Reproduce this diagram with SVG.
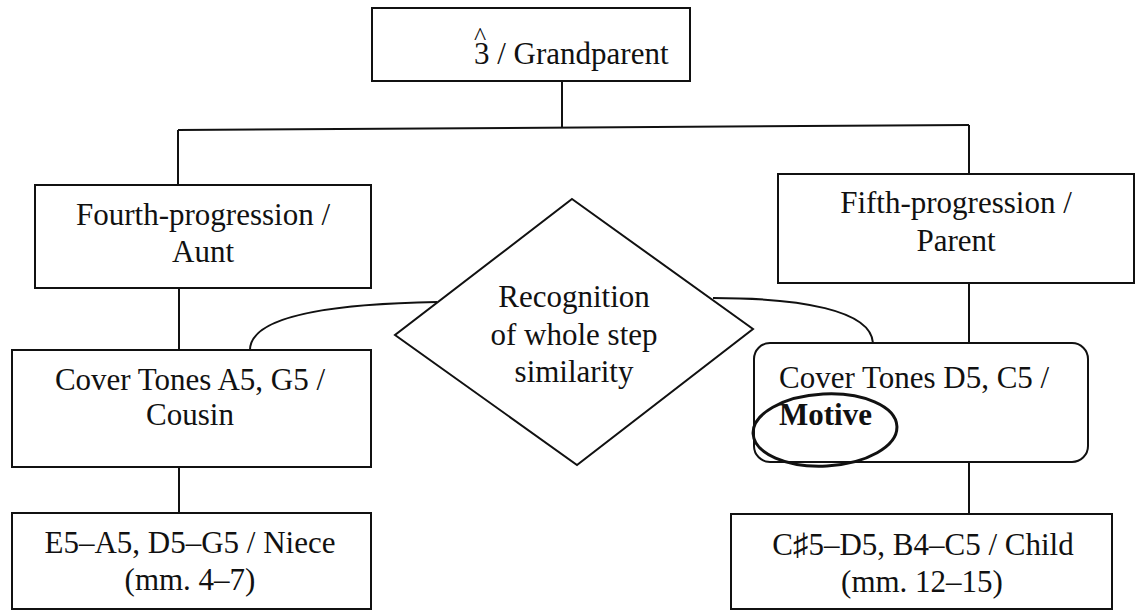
<svg xmlns="http://www.w3.org/2000/svg" width="1135" height="611" viewBox="0 0 1135 611">
<style>
.box{fill:#fff;stroke:#111;stroke-width:2}
.ln{fill:none;stroke:#111;stroke-width:2}
.t{font-family:"Liberation Serif","Times New Roman",serif;font-size:31px;fill:#111;text-anchor:middle}
.l{text-anchor:start}
.b{font-weight:bold}
.c{font-size:26px}
</style>
<rect width="1135" height="611" fill="#fff"/>
<g id="connectors">
<line class="ln" x1="562" y1="81" x2="562" y2="128"/>
<line class="ln" x1="178" y1="130" x2="969" y2="125"/>
<line class="ln" x1="178" y1="130" x2="178" y2="185"/>
<line class="ln" x1="969" y1="125" x2="969" y2="174"/>
<line class="ln" x1="179" y1="288" x2="179" y2="350"/>
<line class="ln" x1="179" y1="467" x2="179" y2="513"/>
<line class="ln" x1="969" y1="283" x2="969" y2="343"/>
<line class="ln" x1="969" y1="462" x2="969" y2="514"/>
<path class="ln" d="M250,350 C250,318 320,304 437,302"/>
<path class="ln" d="M713,298 C800,298 871,310 873,343"/>
</g>
<g id="grandparent">
<rect class="box" x="372" y="8" width="318" height="73"/>
<text class="t c" x="480" y="45">^</text>
<text class="t l" x="474" y="64">3 / Grandparent</text>
</g>
<g id="aunt">
<rect class="box" x="35" y="185" width="336" height="103"/>
<text class="t" x="203" y="225">Fourth-progression /</text>
<text class="t" x="203" y="262">Aunt</text>
</g>
<g id="parent">
<rect class="box" x="778" y="174" width="356" height="109"/>
<text class="t" x="956" y="213">Fifth-progression /</text>
<text class="t" x="956" y="251">Parent</text>
</g>
<g id="cousin">
<rect class="box" x="12" y="350" width="359" height="117"/>
<text class="t" x="190" y="390">Cover Tones A5, G5 /</text>
<text class="t" x="190" y="425">Cousin</text>
</g>
<g id="recognition">
<polygon class="box" points="572,199 753,329 577,465 395,335"/>
<text class="t" x="574" y="307">Recognition</text>
<text class="t" x="574" y="345">of whole step</text>
<text class="t" x="574" y="382">similarity</text>
</g>
<g id="motive">
<rect class="box" x="754" y="343" width="334" height="119" rx="16" ry="16"/>
<text class="t l" x="779" y="388">Cover Tones D5, C5 /</text>
<text class="t l b" x="779" y="425">Motive</text>
<ellipse cx="825" cy="430" rx="72" ry="36" fill="none" stroke="#111" stroke-width="3" transform="rotate(-3 825 430)"/>
</g>
<g id="niece">
<rect class="box" x="12" y="513" width="359" height="96"/>
<text class="t" x="190" y="553">E5–A5, D5–G5 / Niece</text>
<text class="t" x="190" y="590">(mm. 4–7)</text>
</g>
<g id="child">
<rect class="box" x="731" y="514" width="381" height="95"/>
<text class="t" x="923" y="555">C♯5–D5, B4–C5 / Child</text>
<text class="t" x="922" y="592">(mm. 12–15)</text>
</g>
</svg>
